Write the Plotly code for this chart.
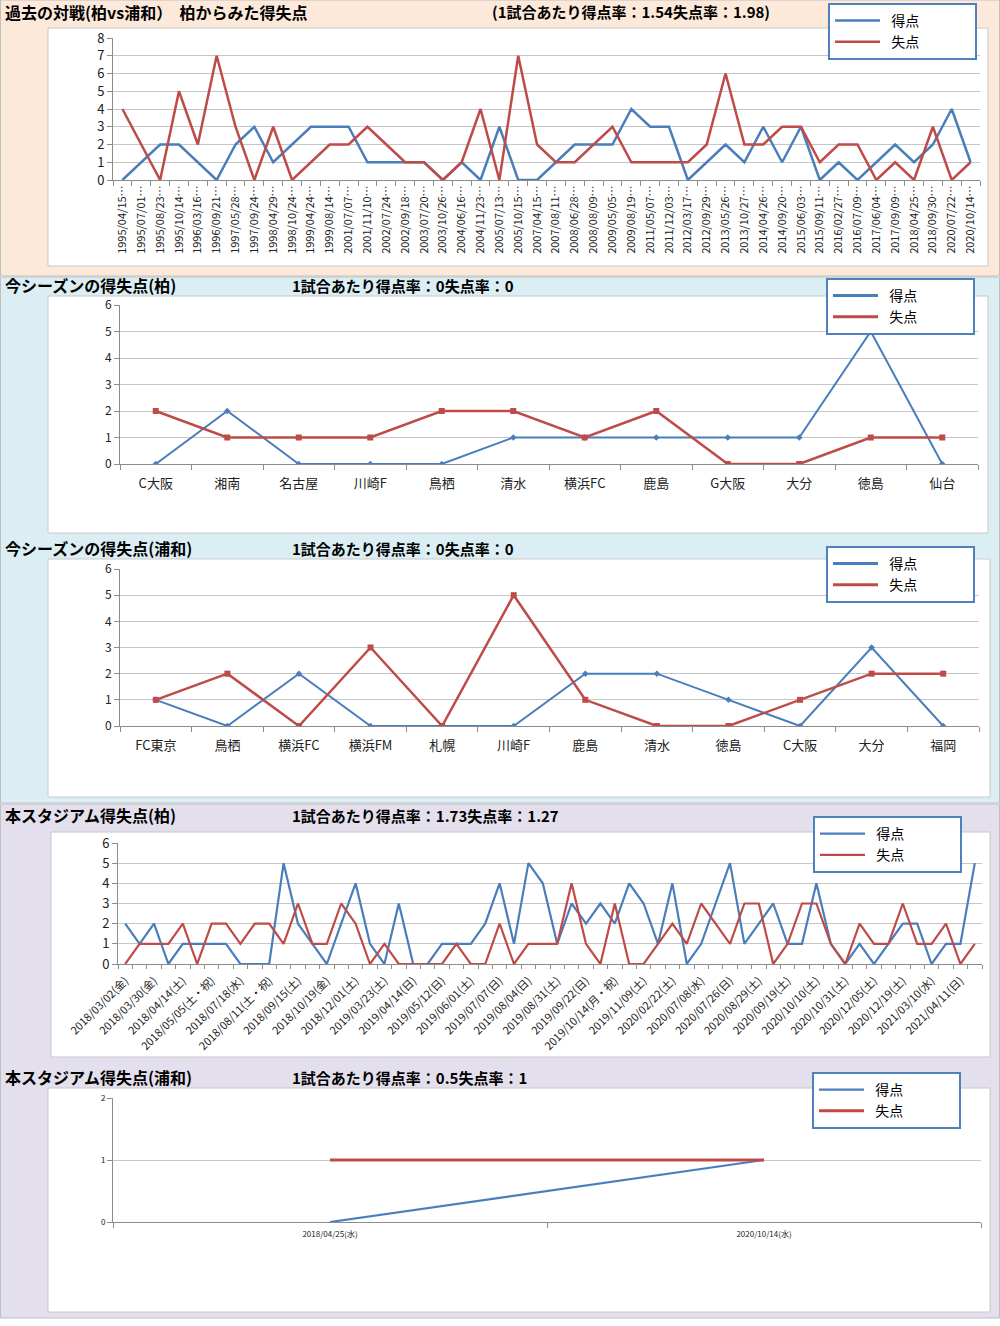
import plotly.graph_objects as go

W, H = 1000, 1326
FONT = "Noto Sans CJK JP"
BLUE = "#4A7EBB"
RED = "#BE4B48"
GRID = "#C6C6C6"
AXIS = "#8C8C8C"

# ---------------- data ----------------
# Panel 1: past head-to-head (Kashiwa vs Urawa)
h2h_dates = [
    "1995/04/15", "1995/07/01", "1995/08/23", "1995/10/14", "1996/03/16", "1996/09/21",
    "1997/05/28", "1997/09/24", "1998/04/29", "1998/10/24", "1999/04/24", "1999/08/14",
    "2001/07/07", "2001/11/10", "2002/07/24", "2002/09/18", "2003/07/20", "2003/10/26",
    "2004/06/16", "2004/11/23", "2005/07/13", "2005/10/15", "2007/04/15", "2007/08/11",
    "2008/06/28", "2008/08/09", "2009/05/05", "2009/08/19", "2011/05/07", "2011/12/03",
    "2012/03/17", "2012/09/29", "2013/05/26", "2013/10/27", "2014/04/26", "2014/09/20",
    "2015/06/03", "2015/09/11", "2016/02/27", "2016/07/09", "2017/06/04", "2017/09/09",
    "2018/04/25", "2018/09/30", "2020/07/22", "2020/10/14",
]
h2h_for = [0, 1, 2, 2, 1, 0, 2, 3, 1, 2, 3, 3, 3, 1, 1, 1, 1, 0, 1, 0, 3, 0, 0,
           1, 2, 2, 2, 4, 3, 3, 0, 1, 2, 1, 3, 1, 3, 0, 1, 0, 1, 2, 1, 2, 4, 1]
h2h_against = [4, 2, 0, 5, 2, 7, 3, 0, 3, 0, 1, 2, 2, 3, 2, 1, 1, 0, 1, 4, 0, 7, 2,
               1, 1, 2, 3, 1, 1, 1, 1, 2, 6, 2, 2, 3, 3, 1, 2, 2, 0, 1, 0, 3, 0, 1]

# Panel 2: this season (Kashiwa)
season_kashiwa_teams = ["C大阪", "湘南", "名古屋", "川崎F", "鳥栖", "清水", "横浜FC",
                        "鹿島", "G大阪", "大分", "徳島", "仙台"]
season_kashiwa_for = [0, 2, 0, 0, 0, 1, 1, 1, 1, 1, 5, 0]
season_kashiwa_against = [2, 1, 1, 1, 2, 2, 1, 2, 0, 0, 1, 1]

# Panel 3: this season (Urawa)
season_urawa_teams = ["FC東京", "鳥栖", "横浜FC", "横浜FM", "札幌", "川崎F", "鹿島",
                      "清水", "徳島", "C大阪", "大分", "福岡"]
season_urawa_for = [1, 0, 2, 0, 0, 0, 2, 2, 1, 0, 3, 0]
season_urawa_against = [1, 2, 0, 3, 0, 5, 1, 0, 0, 1, 2, 2]

# Panel 4: this stadium (Kashiwa) - labels shown on every other match
stadium_kashiwa_labels = [
    "2018/03/02(金)", "2018/03/30(金)", "2018/04/14(土)", "2018/05/05(土・祝)",
    "2018/07/18(水)", "2018/08/11(土・祝)", "2018/09/15(土)", "2018/10/19(金)",
    "2018/12/01(土)", "2019/03/23(土)", "2019/04/14(日)", "2019/05/12(日)",
    "2019/06/01(土)", "2019/07/07(日)", "2019/08/04(日)", "2019/08/31(土)",
    "2019/09/22(日)", "2019/10/14(月・祝)", "2019/11/09(土)", "2020/02/22(土)",
    "2020/07/08(水)", "2020/07/26(日)", "2020/08/29(土)", "2020/09/19(土)",
    "2020/10/10(土)", "2020/10/31(土)", "2020/12/05(土)", "2020/12/19(土)",
    "2021/03/10(水)", "2021/04/11(日)",
]
stadium_kashiwa_for = [2, 1, 2, 0, 1, 1, 1, 1, 0, 0, 0, 5, 2, 1, 0, 2, 4, 1, 0, 3,
                       0, 0, 1, 1, 1, 2, 4, 1, 5, 4, 1, 3, 2, 3, 2, 4, 3, 1, 4, 0,
                       1, 3, 5, 1, 2, 3, 1, 1, 4, 1, 0, 1, 0, 1, 2, 2, 0, 1, 1, 5]
stadium_kashiwa_against = [0, 1, 1, 1, 2, 0, 2, 2, 1, 2, 2, 1, 3, 1, 1, 3, 2, 0, 1, 0,
                           0, 0, 0, 1, 0, 0, 2, 0, 1, 1, 1, 4, 1, 0, 3, 0, 0, 1, 2, 1,
                           3, 2, 1, 3, 3, 0, 1, 3, 3, 1, 0, 2, 1, 1, 3, 1, 1, 2, 0, 1]

# Panel 5: this stadium (Urawa)
stadium_urawa_dates = ["2018/04/25(水)", "2020/10/14(水)"]
stadium_urawa_for = [0, 1]
stadium_urawa_against = [1, 1]

series_names = ["得点", "失点"]

panel_titles = ["過去の対戦(柏vs浦和）  柏からみた得失点", "今シーズンの得失点(柏)",
                "今シーズンの得失点(浦和)", "本スタジアム得失点(柏)", "本スタジアム得失点(浦和)"]
panel_rates = ["(1試合あたり得点率：1.54失点率：1.98)", "1試合あたり得点率：0失点率：0",
               "1試合あたり得点率：0失点率：0", "1試合あたり得点率：1.73失点率：1.27",
               "1試合あたり得点率：0.5失点率：1"]


# ---------------- helpers ----------------
def fx(v):
    return v / W


def fy(v):
    return 1 - v / H


fig = go.Figure()

# ---------------- backgrounds ----------------
shapes = []
sections = [  # (y0, y1, color)
    (0, 276, "#FCE9DA"),
    (277, 803, "#DBEEF3"),
    (804, 1318, "#E4DFEC"),
]
for y0, y1, col in sections:
    shapes.append(dict(type="rect", xref="paper", yref="paper", x0=fx(0.5), x1=fx(999.5),
                       y0=fy(y1), y1=fy(y0), fillcolor=col,
                       line=dict(color="#BFBFBF", width=1), layer="below"))
boxes = [(48, 988, 28, 266), (48, 988, 296, 533), (48, 990, 559, 797),
         (51, 990, 832, 1057), (48, 990, 1088, 1312)]
for x0, x1, y0, y1 in boxes:
    shapes.append(dict(type="rect", xref="paper", yref="paper", x0=fx(x0), x1=fx(x1),
                       y0=fy(y1), y1=fy(y0), fillcolor="white",
                       line=dict(color="#C8C8C8", width=1), layer="below"))

# ---------------- titles ----------------
annotations = []
title_y = [12, 285, 548, 815, 1077]
rate_x = [490, 290, 290, 290, 290]
for i in range(5):
    annotations.append(dict(text="<b>%s</b>" % panel_titles[i], xref="paper", yref="paper",
                            x=fx(3), y=fy(title_y[i]), xanchor="left", yanchor="middle",
                            showarrow=False, font=dict(family=FONT, size=16, color="black")))
    annotations.append(dict(text="<b>%s</b>" % panel_rates[i], xref="paper", yref="paper",
                            x=fx(rate_x[i]), y=fy(title_y[i]), xanchor="left", yanchor="middle",
                            showarrow=False, font=dict(family=FONT, size=15, color="black")))

# ---------------- traces ----------------
legend_ids = ["legend", "legend2", "legend3", "legend4", "legend5"]

# Panel 1
x1 = [d + "…" for d in h2h_dates]
fig.add_trace(go.Scatter(x=x1, y=h2h_for, mode="lines", name=series_names[0],
                         line=dict(color=BLUE, width=2.5), xaxis="x", yaxis="y",
                         legend="legend"))
fig.add_trace(go.Scatter(x=x1, y=h2h_against, mode="lines", name=series_names[1],
                         line=dict(color=RED, width=2.5), xaxis="x", yaxis="y",
                         legend="legend"))

# Panels 2 & 3 (with markers)
for k, (teams, gf, ga) in enumerate([(season_kashiwa_teams, season_kashiwa_for, season_kashiwa_against),
                                     (season_urawa_teams, season_urawa_for, season_urawa_against)]):
    ax = str(k + 2)
    lg = legend_ids[k + 1]
    fig.add_trace(go.Scatter(x=teams, y=gf, mode="lines+markers", name=series_names[0],
                             line=dict(color=BLUE, width=2),
                             marker=dict(symbol="diamond", size=5, color=BLUE),
                             xaxis="x" + ax, yaxis="y" + ax, showlegend=False))
    fig.add_trace(go.Scatter(x=teams, y=ga, mode="lines+markers", name=series_names[1],
                             line=dict(color=RED, width=2.5),
                             marker=dict(symbol="square", size=6, color=RED),
                             xaxis="x" + ax, yaxis="y" + ax, showlegend=False))
    # legend entries (line only, as in the original legend)
    fig.add_trace(go.Scatter(x=[None], y=[None], mode="lines", name=series_names[0],
                             line=dict(color=BLUE, width=3), xaxis="x" + ax, yaxis="y" + ax,
                             legend=lg))
    fig.add_trace(go.Scatter(x=[None], y=[None], mode="lines", name=series_names[1],
                             line=dict(color=RED, width=3), xaxis="x" + ax, yaxis="y" + ax,
                             legend=lg))

# Panel 4
x4 = list(range(len(stadium_kashiwa_for)))
fig.add_trace(go.Scatter(x=x4, y=stadium_kashiwa_for, mode="lines", name=series_names[0],
                         line=dict(color=BLUE, width=2.2), xaxis="x4", yaxis="y4",
                         legend="legend4"))
fig.add_trace(go.Scatter(x=x4, y=stadium_kashiwa_against, mode="lines", name=series_names[1],
                         line=dict(color=RED, width=2.2), xaxis="x4", yaxis="y4",
                         legend="legend4"))

# Panel 5
fig.add_trace(go.Scatter(x=stadium_urawa_dates, y=stadium_urawa_for, mode="lines",
                         name=series_names[0], line=dict(color=BLUE, width=2.2),
                         xaxis="x5", yaxis="y5", legend="legend5"))
fig.add_trace(go.Scatter(x=stadium_urawa_dates, y=stadium_urawa_against, mode="lines",
                         name=series_names[1], line=dict(color=RED, width=3),
                         xaxis="x5", yaxis="y5", legend="legend5"))


# ---------------- axes ----------------
def yax(anchor, dom, rng, size):
    return dict(anchor=anchor, domain=[fy(dom[1]), fy(dom[0])], range=rng, dtick=1,
                showgrid=True, gridcolor=GRID, gridwidth=1, zeroline=False,
                showline=True, linecolor=AXIS, linewidth=1, ticks="outside", ticklen=5,
                tickcolor=AXIS, tickfont=dict(family=FONT, size=size, color="#222"),
                automargin=False, fixedrange=True)


def xcat(anchor, dom, size, angle, n, standoff=0):
    return dict(anchor=anchor, domain=[fx(dom[0]), fx(dom[1])], type="category",
                range=[-0.5, n - 0.5],
                showgrid=False, zeroline=False, showline=True, linecolor=AXIS, linewidth=1,
                ticks="outside", ticklen=5, tickcolor=AXIS, tickson="boundaries",
                tickangle=angle, tickfont=dict(family=FONT, size=size, color="#222"),
                ticklabelstandoff=standoff, automargin=False, fixedrange=True)


layout_axes = dict(
    xaxis=xcat("y", (113, 980), 11, -90, len(h2h_dates)),
    yaxis=yax("x", (38, 180), [0, 8], 13),
    xaxis2=xcat("y2", (120, 978), 13, 0, len(season_kashiwa_teams), 7),
    yaxis2=yax("x2", (305, 464), [0, 6], 12),
    xaxis3=xcat("y3", (120, 979), 13, 0, len(season_urawa_teams), 7),
    yaxis3=yax("x3", (569, 726), [0, 6], 12),
    xaxis4=dict(anchor="y4", domain=[fx(118), fx(982)], type="linear",
                range=[-0.5, len(stadium_kashiwa_for) - 0.5],
                tickvals=list(range(0, len(stadium_kashiwa_for), 2)),
                ticktext=stadium_kashiwa_labels, tickangle=-45,
                showgrid=False, zeroline=False, showline=True, linecolor=AXIS, linewidth=1,
                ticks="outside", ticklen=5, tickcolor="rgba(0,0,0,0)",
                minor=dict(ticks="outside", tick0=-0.5, dtick=1, ticklen=4, tickcolor=AXIS,
                           showgrid=False),
                tickfont=dict(family=FONT, size=11, color="#222"),
                automargin=False, fixedrange=True),
    yaxis4=yax("x4", (843, 964), [0, 6], 13),
    xaxis5=xcat("y5", (113, 981), 8, 0, len(stadium_urawa_dates), 4),
    yaxis5=yax("x5", (1098, 1222), [0, 2], 8),
)

# ---------------- legends ----------------
legend_pos = [(828, 3), (826, 278), (826, 546), (813, 816), (812, 1072)]
legends = {}
for lid, (lx, ly) in zip(legend_ids, legend_pos):
    legends[lid] = dict(x=fx(lx), y=fy(ly), xanchor="left", yanchor="top",
                        bgcolor="white", bordercolor="#4F81BD", borderwidth=2,
                        font=dict(family=FONT, size=14, color="black"),
                        itemwidth=45, tracegroupgap=0, itemclick=False,
                        itemdoubleclick=False)

# pad legend text to match the wide original legend boxes
for tr in fig.data:
    if tr.name in series_names:
        tr.name = "\u00a0\u00a0" + tr.name + "\u00a0" * 16

fig.update_layout(
    width=W, height=H, margin=dict(l=0, r=0, t=0, b=0, autoexpand=False),
    paper_bgcolor="white", plot_bgcolor="white",
    shapes=shapes, annotations=annotations,
    font=dict(family=FONT),
    **layout_axes, **legends,
)

fig.write_html("out.html", config={"displayModeBar": False},
               post_script="document.body.style.margin='0';document.body.style.padding='0';")
